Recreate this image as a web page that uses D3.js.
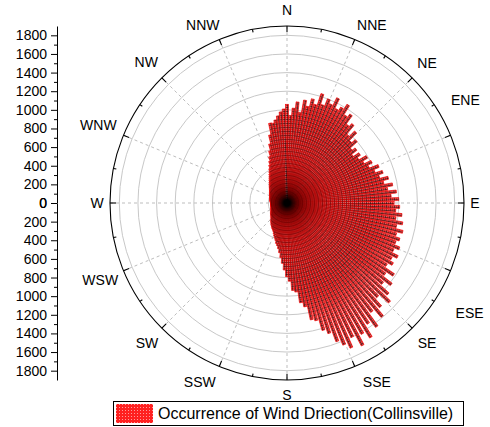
<!DOCTYPE html>
<html>
<head>
<meta charset="utf-8">
<script src="https://cdn.jsdelivr.net/npm/d3@7"></script>
<style>
  body { margin: 0; background: #fff; }
  text { font-family: "Liberation Sans", Arial, sans-serif; fill: #000; }
</style>
</head>
<body>
<div id="chart"></div>
<script>
// wind direction bins (degrees clockwise from north)
var windAngles = [
  0, 2, 4, 6, 8, 10, 12, 14, 16, 18, 20, 22, 24, 26, 28, 30, 32, 34, 36, 38,
  40, 42, 44, 46, 48, 50, 52, 54, 56, 58, 60, 62, 64, 66, 68, 70, 72, 74, 76, 78,
  80, 82, 84, 86, 88, 90, 92, 94, 96, 98, 100, 102, 104, 106, 108, 110, 112, 114, 116, 118,
  120, 122, 124, 126, 128, 130, 132, 134, 136, 138, 140, 142, 144, 146, 148, 150, 152, 154, 156, 158,
  160, 162, 164, 166, 168, 170, 172, 174, 176, 178, 180, 182, 184, 186, 188, 190, 192, 194, 196, 198,
  200, 202, 204, 206, 208, 210, 212, 214, 216, 218, 220, 222, 224, 226, 228, 230, 232, 234, 236, 238,
  240, 242, 244, 246, 248, 250, 252, 254, 256, 258, 260, 262, 264, 266, 268, 270, 272, 274, 276, 278,
  280, 282, 284, 286, 288, 290, 292, 294, 296, 298, 300, 302, 304, 306, 308, 310, 312, 314, 316, 318,
  320, 322, 324, 326, 328, 330, 332, 334, 336, 338, 340, 342, 344, 346, 348, 350, 352, 354, 356, 358
];

// occurrence per bin
var windCounts = [
  1060, 940, 1020, 1090, 980, 1120, 1060, 1150, 1100, 1230, 1120, 1200, 1160, 1250, 1140, 1180, 1240, 1130, 1170, 1060,
  1100, 980, 1060, 950, 1000, 900, 940, 870, 940, 900, 990, 930, 1010, 960, 1060, 1000, 1080, 1030, 1120, 1060,
  1150, 1090, 1180, 1120, 1200, 1150, 1210, 1170, 1240, 1180, 1260, 1200, 1280, 1220, 1270, 1240, 1300, 1250, 1320, 1270,
  1310, 1260, 1380, 1300, 1420, 1340, 1460, 1530, 1400, 1500, 1590, 1480, 1640, 1560, 1700, 1620, 1730, 1600, 1700, 1640,
  1580, 1470, 1420, 1300, 1280, 1130, 1080, 960, 940, 840, 790, 720, 650, 590, 540, 500, 470, 450, 420, 400,
  380, 360, 340, 330, 320, 310, 300, 290, 280, 270, 260, 250, 240, 230, 225, 220, 215, 210, 205, 200,
  195, 190, 188, 185, 183, 180, 178, 177, 176, 175, 175, 174, 175, 174, 175, 176, 177, 178, 180, 182,
  185, 186, 188, 189, 191, 194, 196, 199, 202, 206, 210, 215, 220, 225, 231, 238, 245, 253, 262, 272,
  283, 296, 310, 326, 343, 364, 388, 415, 448, 486, 532, 589, 661, 753, 876, 870, 900, 940, 980, 1010
];

var compassLabels = ["N", "NNE", "NE", "ENE", "E", "ESE", "SE", "SSE",
  "S", "SSW", "SW", "WSW", "W", "WNW", "NW", "NNW"];

var radialTicks = [0, 200, 400, 600, 800, 1000, 1200, 1400, 1600, 1800];
var radialMax = 1900;

var legendText = "Occurrence of Wind Driection(Collinsville)";

var width = 490;
var height = 427;
var cx = 287;
var cy = 203;
var outerR = 177;
var barWidth = 3;

// where each compass label sits: [angle, radius]
var labelPos = [
  [0, 193], [25.5, 197], [45, 198], [60, 206], [90, 188], [121, 213], [135, 198], [153.3, 200],
  [180, 192], [206, 199], [225, 198], [247.6, 202], [270, 190], [292.4, 204], [315, 199], [334.7, 197]
];

var svg = d3
  .select("#chart")
  .append("svg")
  .attr("width", width)
  .attr("height", height);

var defs = svg.append("defs");

// hatch used inside the bars
var hatch = defs
  .append("pattern")
  .attr("id", "hatch")
  .attr("patternUnits", "userSpaceOnUse")
  .attr("width", 4)
  .attr("height", 4);
hatch.append("rect").attr("width", 4).attr("height", 4).attr("fill", "#ff7070");
hatch.append("rect").attr("y", 2).attr("width", 4).attr("height", 1).attr("fill", "#ff2828");
hatch.append("rect").attr("x", 2).attr("width", 1).attr("height", 4).attr("fill", "#ff2828");
hatch.append("rect").attr("width", 4).attr("height", 1).attr("fill", "#200000").attr("fill-opacity", 0.55);
hatch.append("rect").attr("width", 1).attr("height", 4).attr("fill", "#200000").attr("fill-opacity", 0.55);

// finer hatch for the legend swatch
var hatchL = defs
  .append("pattern")
  .attr("id", "hatchL")
  .attr("patternUnits", "userSpaceOnUse")
  .attr("width", 3)
  .attr("height", 3);
hatchL.append("rect").attr("width", 3).attr("height", 3).attr("fill", "#ff9a9a");
hatchL.append("rect").attr("width", 3).attr("height", 2).attr("fill", "#ff2020");
hatchL.append("rect").attr("width", 2).attr("height", 3).attr("fill", "#ff2020");

var rScale = d3.scaleLinear().domain([0, radialMax]).range([0, outerR]);
var aScale = d3.scaleLinear().domain([0, 360]).range([0, 2 * Math.PI]);

function polarX(deg, r) {
  return cx + r * Math.sin(aScale(deg));
}
function polarY(deg, r) {
  return cy - r * Math.cos(aScale(deg));
}

var polar = svg.append("g");

// grid circles
polar
  .selectAll(".gridCircle")
  .data(radialTicks.filter(function(d) { return d > 0; }))
  .enter()
  .append("circle")
  .attr("cx", cx)
  .attr("cy", cy)
  .attr("r", function(d) { return rScale(d); })
  .attr("fill", "none")
  .attr("stroke", "#c8c8c8")
  .attr("stroke-width", 1);

// radial dashed lines
var spokeAngles = compassLabels.map(function(d, i) { return i * 22.5; });
polar
  .selectAll(".spoke")
  .data(spokeAngles)
  .enter()
  .append("line")
  .attr("x1", cx)
  .attr("y1", cy)
  .attr("x2", function(d) { return polarX(d, outerR); })
  .attr("y2", function(d) { return polarY(d, outerR); })
  .attr("stroke", "#bdbdbd")
  .attr("stroke-width", 1)
  .attr("stroke-dasharray", "3,3");

// bars
var windData = windAngles.map(function(a, i) {
  return { angle: a, count: windCounts[i] };
});

function barTransform(d) {
  return "translate(" + cx + "," + cy + ")rotate(" + d.angle + ")";
}

polar
  .selectAll(".bar")
  .data(windData)
  .enter()
  .append("rect")
  .attr("class", "bar")
  .attr("x", -barWidth / 2)
  .attr("y", function(d) { return -rScale(d.count); })
  .attr("width", barWidth)
  .attr("height", function(d) { return rScale(d.count); })
  .attr("transform", barTransform)
  .attr("fill", "url(#hatch)")
  .attr("stroke", "#ff0000")
  .attr("stroke-width", 0.6);

// overlapping bars darken towards the centre
polar
  .selectAll(".shade")
  .data(windData)
  .enter()
  .append("rect")
  .attr("class", "shade")
  .attr("x", -barWidth / 2)
  .attr("y", function(d) { return -rScale(d.count); })
  .attr("width", barWidth)
  .attr("height", function(d) { return rScale(d.count); })
  .attr("transform", barTransform)
  .attr("fill", "#000")
  .attr("fill-opacity", 0.11);

// outer circle with ticks
polar
  .append("circle")
  .attr("cx", cx)
  .attr("cy", cy)
  .attr("r", outerR)
  .attr("fill", "none")
  .attr("stroke", "#000")
  .attr("stroke-width", 1.1);

var tickAngles = d3.range(0, 360, 11.25);
polar
  .selectAll(".rimTick")
  .data(tickAngles)
  .enter()
  .append("line")
  .attr("x1", function(d) { return polarX(d, outerR); })
  .attr("y1", function(d) { return polarY(d, outerR); })
  .attr("x2", function(d, i) { return polarX(d, outerR - (i % 2 ? 3 : 6)); })
  .attr("y2", function(d, i) { return polarY(d, outerR - (i % 2 ? 3 : 6)); })
  .attr("stroke", "#000")
  .attr("stroke-width", 1.1);

// compass labels
polar
  .selectAll(".compass")
  .data(compassLabels)
  .enter()
  .append("text")
  .attr("x", function(d, i) { return polarX(labelPos[i][0], labelPos[i][1]); })
  .attr("y", function(d, i) { return polarY(labelPos[i][0], labelPos[i][1]); })
  .attr("text-anchor", "middle")
  .attr("dominant-baseline", "central")
  .attr("font-size", 14)
  .text(function(d) { return d; });

// left radial axis, mirrored above and below the centre
var axisX = 57;
var yUp = d3.scaleLinear().domain([0, radialMax]).range([cy, cy - outerR]);
var yDown = d3.scaleLinear().domain([0, radialMax]).range([cy, cy + outerR]);
var minorTicks = d3.range(100, radialMax, 200);

[yUp, yDown].forEach(function(sc) {
  svg
    .append("g")
    .attr("transform", "translate(" + axisX + ",0)")
    .call(d3.axisLeft(sc).tickValues(minorTicks).tickSize(3).tickSizeOuter(0).tickFormat(""))
    .call(function(g) { g.select(".domain").remove(); });

  var ax = svg
    .append("g")
    .attr("class", "yAxis")
    .attr("transform", "translate(" + axisX + ",0)")
    .call(d3.axisLeft(sc).tickValues(radialTicks).tickSize(6).tickSizeOuter(0)
      .tickPadding(4).tickFormat(d3.format("d")));
  ax.selectAll("text").attr("font-size", 14).style("font-family", "'Liberation Sans', Arial, sans-serif");
  ax.selectAll("line, path").attr("stroke", "#000");
});

// legend
var legend = svg.append("g");
legend
  .append("rect")
  .attr("x", 113.5)
  .attr("y", 401.5)
  .attr("width", 350)
  .attr("height", 24)
  .attr("fill", "#fff")
  .attr("stroke", "#000");
legend
  .append("rect")
  .attr("x", 116)
  .attr("y", 404)
  .attr("width", 37)
  .attr("height", 19)
  .attr("fill", "url(#hatchL)");
legend
  .append("text")
  .attr("x", 158)
  .attr("y", 419)
  .attr("font-size", 16)
  .text(legendText);
</script>
</body>
</html>
